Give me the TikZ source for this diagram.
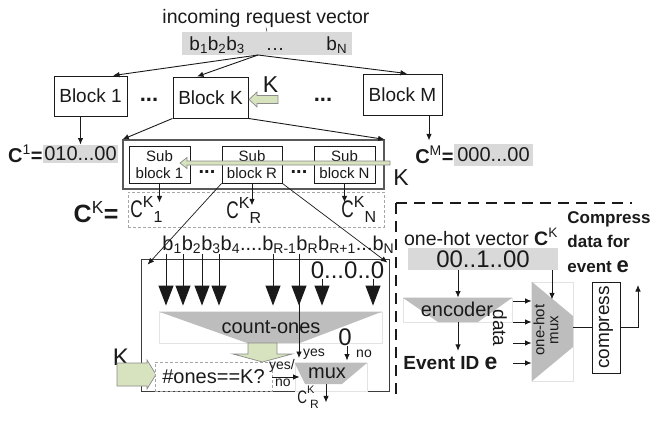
\documentclass[tikz,border=0pt]{standalone}
\usepackage{fontspec}
\setmainfont{Liberation Sans}
\usetikzlibrary{arrows.meta,calc}
\newcommand\fs[1]{\fontsize{#1}{#1}\selectfont}
\definecolor{txt}{HTML}{1A1A1A}
\definecolor{barg}{HTML}{D9D9D9}
\definecolor{trapg}{HTML}{BDBDBD}
\definecolor{grn}{HTML}{D7E3BE}
\definecolor{grnb}{HTML}{8A8A8A}
\definecolor{faint}{HTML}{E3E3E3}
\newcommand\ccomp[1]{\scalebox{0.72}[1]{\fs{24}C}\raisebox{9.5pt}{\fs{16}K}\raisebox{-5pt}{\fs{16}#1}}
\begin{document}
\begin{tikzpicture}[x=1pt,y=-1pt,line width=0.9pt,color=txt,
  arr/.style={draw=txt,-{Latex[length=6.5pt,width=5.5pt]}},
  bigarr/.style={draw=txt,-{Triangle[length=20pt,width=15pt]}},
  blk/.style={draw=txt,fill=white,font=\fs{19},inner sep=0,minimum height=40},
  sbx/.style={draw=txt,fill=white,font=\fontsize{15}{17}\selectfont,align=center,inner sep=0,minimum width=61,minimum height=37},
  lbl/.style={inner sep=0},
  gbar/.style={fill=barg,inner sep=0},
  fbox/.style={draw=faint,fill=white,inner sep=0},
  trapz/.style={fill=trapg},
  garr/.style={fill=grn,draw=grnb,line width=0.7pt},
  thindash/.style={draw=gray!70,dash pattern=on 3pt off 2pt,line width=0.6pt},
]
\useasboundingbox (0,0) rectangle (657,421);

% ---------- top ----------
\node[lbl,font=\fs{19.5}] (title) at (266,18) {incoming request vector};
\node[gbar,minimum width=170,minimum height=23] (vec) at (267,43.5) {};
\node[lbl,font=\fs{19},anchor=base west] (vb1) at (189,50) {b\textsubscript{1}b\textsubscript{2}b\textsubscript{3}};
\node[lbl,font=\fs{19},anchor=base] (vdots) at (275,50) {…};
\node[lbl,font=\fs{19},anchor=base west] (vbn) at (326,50) {b\textsubscript{N}};
\draw[line width=0.5pt] (title.south) -- (vec.north);

\node[blk,minimum width=73] (b1) at (90.5,96) {Block 1};
\node[blk,minimum width=75,minimum height=41] (bK) at (210.5,97.5) {Block K};
\node[blk,minimum width=79,minimum height=41] (bM) at (402.5,94.5) {Block M};
\node[lbl,font=\bfseries\fs{22},anchor=base] (d1) at (149,101) {...};
\node[lbl,font=\bfseries\fs{22},anchor=base] (d2) at (323,101) {...};

\coordinate (vsrc) at (258,55);
\draw[arr] (vsrc) -- ($(b1.north)+(22.5,0)$);
\draw[arr] (vsrc) -- ($(bK.north)+(-13.5,0)$);
\draw[arr] (vsrc) -- ($(bM.north)+(4.5,0)$);

\draw[garr] (249,99.5) -- (257,92) -- (257,95.5) -- (278,95.5) -- (278,103.5) -- (257,103.5) -- (257,107) -- cycle;
\node[lbl,font=\fs{23}] (kA) at (270.5,84.5) {K};

% ---------- C rows ----------
\node[lbl,font=\fs{20},anchor=east] (c1l) at (43,154) {\textbf{C}\textsuperscript{1}\textbf{=}};
\node[gbar,minimum width=75,minimum height=18,font=\fs{20}] (c1v) at (80.5,154) {010...00};
\draw[arr] (b1.south -| c1v.north) -- (c1v.north);

\node[lbl,font=\fs{20},anchor=east] (cMl) at (454,155) {\textbf{C}\textsuperscript{M}\textbf{=}};
\node[gbar,minimum width=79,minimum height=22,font=\fs{20}] (cMv) at (493.5,155) {000...00};
\draw[arr] (bM.south -| 429,0) -- ++(0,25);

% ---------- sub blocks ----------
\node[draw=gray!70!black,line width=1.2pt,minimum width=261,minimum height=49,inner sep=0] (sbox) at (253.5,164.5) {};
\draw[arr] (bK.south west) -- (sbox.north west);
\draw[arr] (bK.south east) -- (sbox.north east);
\node[sbx] (s1) at (159.5,164.5) {Sub\\block 1};
\node[sbx,minimum width=60] (sR) at (252,164.5) {Sub\\block R};
\node[sbx] (sN) at (344.5,164.5) {Sub\\block N};
\node[lbl,font=\bfseries\fs{20},anchor=base] (d3) at (207,173) {...};
\node[lbl,font=\bfseries\fs{20},anchor=base] (d4) at (299,173) {...};
\draw[garr] (180,163) -- (187,157.5) -- (187,161) -- (390,161) -- (390,165) -- (187,165) -- (187,168.5) -- cycle;
\node[lbl,font=\fs{23}] (kB) at (401,178) {K};

\node[thindash,minimum width=256,minimum height=35,inner sep=0] (ckbox) at (256,209.5) {};
\node[lbl,font=\bfseries\fs{25},anchor=east] (ckl) at (119,212) {C\textsuperscript{\mdseries K}=};
\node[lbl,anchor=base west] (ck1) at (130,217) {\ccomp{1}};
\node[lbl,anchor=base west] (ckR) at (226,218) {\ccomp{R}};
\node[lbl,anchor=base west] (ckN) at (341,217) {\ccomp{N}};
\draw[arr] (s1.south) -- ++(0,19);
\draw[arr] (sR.south) -- ++(0,22);
\draw[arr] (sN.south) -- ++(0,19);

% ---------- detail of sub block R ----------
\node[draw=txt!85,line width=0.8pt,minimum width=248,minimum height=132,inner sep=0] (big) at (265,325) {};
\draw[arr,line width=0.7pt] (sR.south west) -- ($(big.north west)+(7,6)$);
\draw[arr,line width=0.7pt] (sR.south east) -- ($(big.north east)+(-2,4)$);

\node[lbl,font=\fs{20},anchor=base west] (btx) at (162,250) {b\textsubscript{1}b\textsubscript{2}b\textsubscript{3}b\textsubscript{4}....b\textsubscript{R-1}b\textsubscript{R}b\textsubscript{R+1}...b\textsubscript{N}};
\node[lbl,font=\fs{24}] (zer) at (347.5,270) {0...0..0};

\node[fbox,minimum width=223,minimum height=31] (cnt) at (270.5,327.5) {};
\fill[trapz] (cnt.north west) -- (cnt.north east) -- (300,343) -- (247,343) -- cycle;
\node[lbl,font=\fs{20}] (cntt) at (271,327) {count-ones};

\node[fbox,minimum width=72,minimum height=28] (mux) at (331,377) {};
\fill[trapz] (mux.north west) -- (mux.north east) -- (342,384) -- (305,384) -- cycle;
\node[lbl,font=\fs{20}] (muxt) at (327,373) {mux};

\foreach \x in {166,183,202,219,273,299}
  \draw[bigarr,shorten >=6pt] (\x,0 |- btx.south) -- (\x,0 |- cnt.north);
\foreach \x in {322,373}
  \draw[bigarr,shorten >=6pt] (\x,0 |- zer.south) -- (\x,0 |- cnt.north);
\draw[arr] (299,0 |- btx.south) -- (299,358);

\draw[garr] (248,343) -- (277,343) -- (277,354) -- (292,354) -- (262.5,362) -- (233,354) -- (248,354) -- cycle;

\node[lbl,font=\fs{24}] (kC) at (121,357) {K};
\draw[garr] (117,363) -- (147,363) -- (147,360) -- (156,374.5) -- (147,389) -- (147,386) -- (117,386) -- cycle;
\node[thindash,fill=white,minimum width=117,minimum height=29,inner sep=0,font=\fs{20}] (chk) at (213.5,376.5) {\#ones==K?};
\node[lbl,font=\fs{14}] (yn1) at (282,365.5) {yes/};
\node[lbl,font=\fs{14}] (yn2) at (283,383) {no};
\draw[arr,shorten >=-5pt] (chk.east |- mux.west) -- (mux.west);

\node[lbl,font=\fs{24}] (z0) at (345,337) {0};
\draw[arr,shorten >=2pt] (z0.south -| 347,0) -- (347,0 |- mux.north);
\node[lbl,font=\fs{14}] (yes2) at (314,354) {yes};
\node[lbl,font=\fs{14}] (no2) at (364,354) {no};

\draw[arr] ($(mux.south)+(-5,-7)$) -- ++(0,18);
\node[lbl,anchor=base west] (cR2) at (297,403) {\scalebox{0.75}[1]{\fs{18}C}\raisebox{10pt}{\rlap{\fs{11}K}}\hspace{3pt}\raisebox{-5pt}{\fs{12}R}};

% ---------- right panel ----------
\draw[line width=2pt,dash pattern=on 11pt off 7pt] (396,203) -- (632,203);
\draw[line width=2pt,dash pattern=on 11pt off 7pt] (396,203) -- (396,394);

\node[lbl,font=\fs{19.5}] (ohl) at (481,237) {one-hot vector \textbf{C}\textsuperscript{K}};
\node[gbar,minimum width=150,minimum height=22,font=\fs{24}] (oh) at (483,259) {00..1..00};
\node[lbl,font=\bfseries\fontsize{17}{24.5}\selectfont,align=left,anchor=west] (cmpt) at (567,242) {Compress\\data for\\event {\fs{22}e}};

\node[fbox,minimum width=109,minimum height=24] (enc) at (457.5,310) {};
\fill[trapz] (enc.north west) -- (enc.north east) -- (478,322) -- (438,322) -- cycle;
\node[lbl,font=\fs{20}] (enct) at (457,309) {encoder};

\node[lbl,font=\bfseries\fs{19},anchor=west] (eid) at (403,363) {Event ID {\fs{23}e}};
\draw[arr] (oh.south -| 458,0) -- (458,0 |- enc.north);
\draw[arr,shorten >=5pt] (enc.south -| 458,0) -- (458,0 |- eid.north);

\node[lbl,font=\fs{19},rotate=-90] (dat) at (500,328) {data};

\node[fbox,minimum width=41,minimum height=99] (ohm) at (552.5,331.5) {};
\fill[trapz] (ohm.north west) -- (573,316) -- (573,347) -- (ohm.south west) -- cycle;
\node[lbl,font=\fontsize{15}{14}\selectfont,rotate=90,align=center] (ohmt) at (546,330) {one-hot\\mux};
\draw[arr] (oh.south -| 552,0) -- ++(0,29);
\foreach \y in {301,322,343,363}
  \draw[arr] (513,\y) -- (ohm.west |- 0,\y);

\node[draw=txt,minimum width=28,minimum height=91,inner sep=0] (cmp) at (606,327.5) {};
\node[lbl,font=\fs{19},rotate=90] (cmpl) at (cmp.center) {compress};
\draw (ohm.east |- cmp.west) -- (cmp.west);
\coordinate (outp) at (638,285);
\draw[arr] (cmp.east) -| (outp);
\end{tikzpicture}
\end{document}
